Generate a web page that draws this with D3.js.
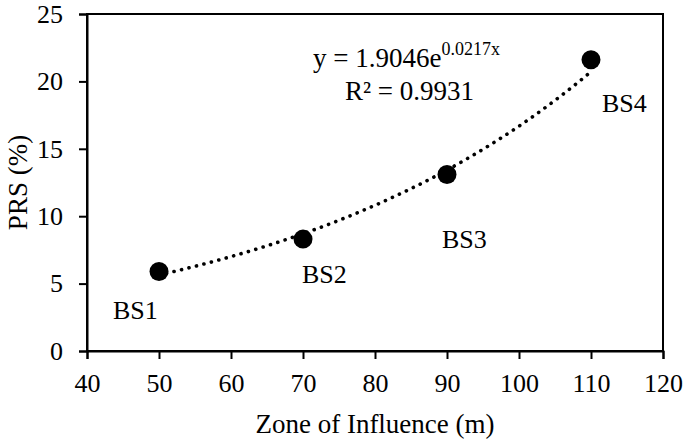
<!DOCTYPE html>
<html><head><meta charset="utf-8">
<script src="https://cdn.jsdelivr.net/npm/d3@7"></script>
<style>body{margin:0;background:#fff}svg{display:block}</style>
</head><body>
<script>
const labels = ["BS1","BS2","BS3","BS4"];
const xValues = [50,70,90,110];
const yValues = [5.9,8.3,13.1,21.6];
const xTicks = [40,50,60,70,80,90,100,110,120];
const yTicks = [0,5,10,15,20,25];
const fitA = 1.9046, fitB = 0.0217;

const FONT = '"Liberation Serif"';
const W=685,H=443;
const m={l:87,r:22,t:14,b:92};
const svg=d3.select("body").append("svg").attr("width",W).attr("height",H)
  .style("font-family",FONT);
const x=d3.scaleLinear().domain([40,120]).range([m.l,W-m.r]);
const y=d3.scaleLinear().domain([0,25]).range([H-m.b,m.t]);

// frame
svg.append("rect").attr("x",x(40)).attr("y",y(25)).attr("width",x(120)-x(40)).attr("height",y(0)-y(25))
  .attr("fill","none").attr("stroke","#000").attr("stroke-width",2);

const xa=svg.append("g").attr("transform",`translate(0,${y(0)})`)
  .call(d3.axisBottom(x).tickValues(xTicks).tickSize(8).tickPadding(15).tickFormat(d3.format("d")));
const ya=svg.append("g").attr("transform",`translate(${x(40)},0)`)
  .call(d3.axisLeft(y).tickValues(yTicks).tickSize(8).tickPadding(16).tickFormat(d3.format("d")));
[xa,ya].forEach(g=>{
  g.attr("font-family",null).attr("font-size",null);
  g.select(".domain").attr("stroke","#000").attr("stroke-width",2);
  g.selectAll(".tick line").attr("stroke","#000").attr("stroke-width",2);
  g.selectAll(".tick text").style("font-family",FONT).style("font-size","26px").attr("fill","#000");
});

// trendline
const fitX=d3.range(50,110.01,0.5);
svg.append("path").datum(fitX)
  .attr("d",d3.line().x(d=>x(d)).y(d=>y(fitA*Math.exp(fitB*d))))
  .attr("fill","none").attr("stroke","#000").attr("stroke-width",3.6)
  .attr("stroke-linecap","round").attr("stroke-dasharray","0.1 7.6");

// points
svg.selectAll("circle.pt").data(xValues).enter().append("circle")
  .attr("cx",d=>x(d)).attr("cy",(d,i)=>y(yValues[i])).attr("r",9.5).attr("fill","#000");

// labels
const lblOff=[[-46,48],[-1,44],[-5,74],[11,52]];
svg.selectAll("text.lbl").data(labels).enter().append("text")
  .attr("x",(d,i)=>x(xValues[i])+lblOff[i][0]).attr("y",(d,i)=>y(yValues[i])+lblOff[i][1])
  .style("font-family",FONT).style("font-size","26px").text(d=>d);

// equation
const eq=svg.append("text").attr("x",313).attr("y",67).style("font-family",FONT).style("font-size","27px");
eq.append("tspan").text("y = 1.9046e");
eq.append("tspan").attr("dy",-12).style("font-size","18px").text("0.0217x");
svg.append("text").attr("x",345).attr("y",100).style("font-family",FONT).style("font-size","27px").text("R² = 0.9931");

// axis titles
svg.append("text").attr("x",(x(40)+x(120))/2).attr("y",433).attr("text-anchor","middle")
  .style("font-family",FONT).style("font-size","27px").text("Zone of Influence (m)");
svg.append("text").attr("transform",`translate(27,${(y(0)+y(25))/2}) rotate(-90)`).attr("text-anchor","middle")
  .style("font-family",FONT).style("font-size","27px").text("PRS (%)");
</script>
</body></html>
